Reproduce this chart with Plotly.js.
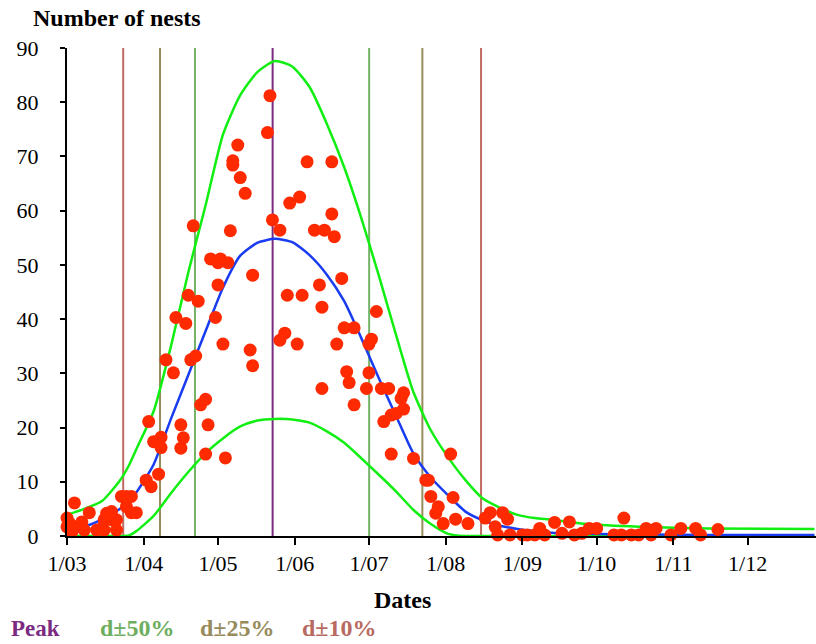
<!DOCTYPE html>
<html>
<head>
<meta charset="utf-8">
<script src="https://cdn.plot.ly/plotly-3.0.1.min.js"></script>
<style>html,body{margin:0;padding:0;background:#fff;}#chart{width:816px;height:644px;}</style>
</head>
<body>
<div id="chart"></div>
<script>
var YEAR = "2021-";

// Observed nests (date MM-DD, count)
var dotDates = ["03-01","03-01","03-02","03-03","03-04","03-05","03-07","03-08","03-10","03-13","03-15","03-16","03-16","03-17","03-19","03-19","03-21","03-21","03-23","03-25","03-25","03-27","03-27","03-29",
"04-02","04-03","04-04","04-05","04-07","04-08","04-08","04-10","04-13","04-14","04-16","04-16","04-17","04-18","04-19","04-20","04-21","04-22","04-23","04-24","04-26","04-26","04-27","04-28","04-30",
"05-01","05-01","05-02","05-03","05-04","05-05","05-06","05-07","05-07","05-09","05-10","05-12","05-14","05-15","05-15","05-21","05-22","05-23","05-26","05-26","05-28","05-29","05-30",
"06-02","06-03","06-04","06-06","06-09","06-11","06-12","06-12","06-13","06-16","06-16","06-17","06-18","06-20","06-21","06-22","06-23","06-25","06-25","06-30",
"07-01","07-01","07-02","07-04","07-06","07-07","07-09","07-10","07-10","07-12","07-14","07-15","07-15","07-19","07-24","07-25","07-26","07-28","07-29","07-31",
"08-03","08-04","08-05","08-10","08-17","08-19","08-21","08-22","08-24","08-26","08-27",
"09-01","09-03","09-06","09-08","09-08","09-10","09-14","09-17","09-20","09-22","09-25","09-28",
"10-01","10-08","10-11","10-12","10-15","10-18","10-21","10-23","10-25","10-31",
"11-04","11-10","11-12","11-19"];
var dotValues = [3.3,1.7,2.4,0.8,6.1,1.7,2.6,1.1,4.3,1.1,1.4,1.1,3.0,4.2,3.0,4.5,3.0,1.1,7.3,5.4,7.3,7.3,4.3,4.3,
10.3,21.1,9.1,17.4,11.4,16.3,18.2,32.5,30.1,40.3,20.5,16.2,18.1,39.2,44.4,32.5,57.2,33.2,43.3,24.2,25.2,15.1,20.5,51.1,40.3,
46.3,50.4,51.1,35.4,14.4,50.4,56.3,68.4,69.2,72.1,66.1,63.2,34.3,48.1,31.4,74.4,81.2,58.3,56.4,36.1,37.4,44.4,61.4,
35.4,62.5,44.4,69.0,56.4,46.3,27.2,42.2,56.4,69.0,59.4,55.2,35.4,47.5,38.4,30.3,28.3,38.4,24.2,27.2,
35.4,30.1,36.3,41.4,27.2,21.1,27.2,22.3,15.1,22.6,25.4,26.4,23.4,14.3,10.3,10.3,7.3,4.2,5.4,2.3,
15.1,7.1,3.1,2.3,3.3,4.3,1.7,0.2,4.3,3.1,0.2,
0.2,0.2,0.2,0.8,1.4,0.2,2.5,0.5,2.6,0.2,0.5,1.4,
1.4,0.2,0.2,3.3,0.2,0.2,1.4,0.2,1.4,0.2,
1.4,1.4,0.2,1.2];

// Fitted curves, read weekly
var curveDates = ["03-01","03-08","03-15","03-22","03-26","03-29","04-05","04-12","04-19","04-26","05-03","05-10","05-17","05-24","05-31","06-07","06-14","06-21","06-28","07-05","07-12","07-19","07-26","08-02","08-09","08-16","08-23","08-30","09-06","09-13","09-27","10-18","11-15","12-28"];
var fitValues   = [1.0,1.7,3.0,4.9,6.3,8.0,13.2,21.6,29.7,37.8,45.8,51.7,54.1,54.8,54.2,51.8,48.2,43.3,36.4,29.1,22.1,15.2,10.8,7.5,4.5,2.9,1.9,1.3,0.9,0.6,0.4,0.3,0.2,0.2];
var upperValues = [3.9,5.0,6.4,10.0,13.0,16.0,23.0,35.0,48.6,61.0,74.0,81.3,85.6,87.6,86.6,82.8,76.0,68.0,58.5,48.0,37.0,26.5,19.5,14.5,10.3,6.9,5.2,3.9,3.3,3.0,2.2,1.7,1.4,1.3];
var lowerValues = [0,0,0,0,0.1,0.9,3.7,7.9,11.8,15.3,18.0,20.2,21.3,21.6,21.5,20.9,19.3,17.2,14.3,11.3,8.2,4.8,2.2,0.4,0,0,0,0,0,0,0,0,0,0];

// Reference lines: peak and d±50 %, d±25 %, d±10 %
var peakDate = ["05-23 02:00"];
var d50Dates = ["04-21 17:00","07-01 02:00"];
var d25Dates = ["04-07 14:00","07-22 14:00"];
var d10Dates = ["03-23 17:00","08-15 07:00"];
var refTop = 90;

var tickDates  = ["03-01","04-01","05-01","06-01","07-01","08-01","09-01","10-01","11-01","12-01"];
var tickLabels = ["1/03","1/04","1/05","1/06","1/07","1/08","1/09","1/10","1/11","1/12"];
var yTicks = [0,10,20,30,40,50,60,70,80,90];

function d(a){return a.map(function(s){return YEAR+s;});}

var traces = [];
function vlines(dates, color){
  dates.forEach(function(s){
    traces.push({x:[YEAR+s,YEAR+s], y:[0,refTop], mode:"lines", line:{color:color,width:2}, hoverinfo:"skip", showlegend:false});
  });
}
vlines(d10Dates, "#c06a64");
vlines(d25Dates, "#978b5c");
vlines(d50Dates, "#74b266");
vlines(peakDate, "#7b2a82");

traces.push({x:d(curveDates), y:upperValues, mode:"lines", line:{color:"#11ee11",width:2.5,shape:"spline",smoothing:0.6}, showlegend:false});
traces.push({x:d(curveDates), y:lowerValues, mode:"lines", line:{color:"#11ee11",width:2.5,shape:"spline",smoothing:0.6}, showlegend:false});
traces.push({x:d(curveDates), y:fitValues, mode:"lines", line:{color:"#1a3cf0",width:2.5,shape:"spline",smoothing:0.6}, showlegend:false});
traces.push({x:d(dotDates), y:dotValues, mode:"markers", marker:{color:"#ff2a00",size:13}, cliponaxis:false, showlegend:false});

var F = '"Liberation Serif", "Times New Roman", Times, serif';
var layout = {
  width:816, height:644,
  margin:{l:67, r:0, t:48, b:108},
  paper_bgcolor:"#fff", plot_bgcolor:"#fff",
  showlegend:false,
  font:{family:F, color:"#000"},
  xaxis:{
    type:"date",
    range:[YEAR+"03-01", YEAR+"12-28 15:00"],
    tickvals:d(tickDates), ticktext:tickLabels,
    ticks:"outside", ticklen:7, tickwidth:2, tickcolor:"#000",
    showline:true, linewidth:2, linecolor:"#000",
    showgrid:false, zeroline:false,
    tickfont:{family:F, size:22, color:"#000"}
  },
  yaxis:{
    range:[0,90],
    tickvals:yTicks,
    ticks:"outside", ticklen:5, tickwidth:2, tickcolor:"#000",
    showline:true, linewidth:2, linecolor:"#000",
    showgrid:false, zeroline:false,
    ticklabelstandoff:17,
    tickfont:{family:F, size:22, color:"#000"}
  },
  annotations:[
    {text:"<b>Number of nests</b>", xref:"paper", yref:"paper", x:-0.0475, y:1, xanchor:"left", yanchor:"bottom", yshift:15, showarrow:false, font:{family:F,size:24,color:"#000"}},
    {text:"<b>Dates</b>", xref:"paper", yref:"paper", x:0.448, y:0, xanchor:"center", yanchor:"middle", yshift:-64, showarrow:false, font:{family:F,size:24,color:"#000"}},
    {text:"<b>Peak</b>", xref:"paper", yref:"paper", x:-0.078, y:0, xanchor:"left", yanchor:"middle", yshift:-92, showarrow:false, font:{family:F,size:23,color:"#7b2a82"}},
    {text:"<b>d±50%</b>", xref:"paper", yref:"paper", x:0.0415, y:0, xanchor:"left", yanchor:"middle", yshift:-92, showarrow:false, font:{family:F,size:24,color:"#6eae60"}},
    {text:"<b>d±25%</b>", xref:"paper", yref:"paper", x:0.1755, y:0, xanchor:"left", yanchor:"middle", yshift:-92, showarrow:false, font:{family:F,size:24,color:"#978b5c"}},
    {text:"<b>d±10%</b>", xref:"paper", yref:"paper", x:0.3105, y:0, xanchor:"left", yanchor:"middle", yshift:-92, showarrow:false, font:{family:F,size:24,color:"#b86a62"}}
  ]
};
Plotly.newPlot("chart", traces, layout, {displayModeBar:false, staticPlot:true});
</script>
</body>
</html>
